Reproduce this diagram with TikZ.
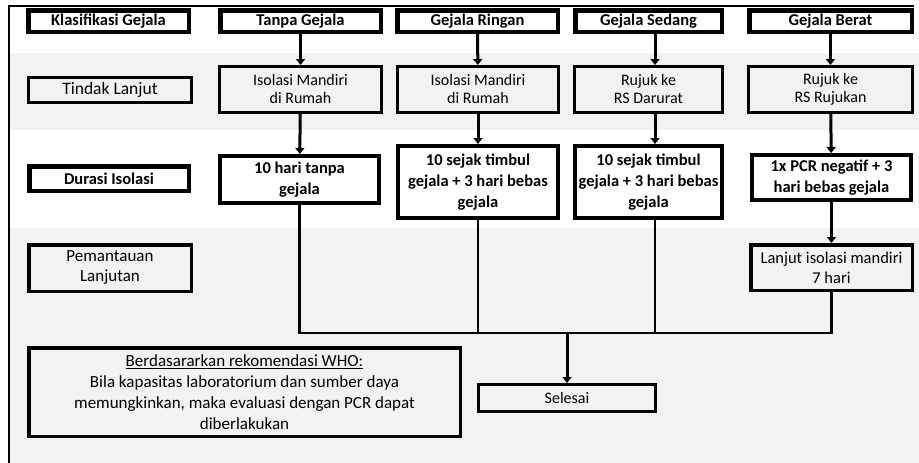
\documentclass[tikz,border=0pt]{standalone}
\usepackage{fontspec}
\setmainfont{Carlito}
\usetikzlibrary{arrows.meta}
\definecolor{bandgray}{HTML}{F2F2F2}

\begin{document}
\begin{tikzpicture}[
	x=1pt,
	y=-1pt,
	header/.style={
		rectangle,
		draw=black,
		line width=4.5pt,
		fill=white,
		align=center,
		inner sep=0pt,
		font=\fontsize{16.5}{19.5}\selectfont\bfseries,
		minimum height=21.5pt
	},
	action/.style={
		rectangle,
		draw=black,
		line width=3pt,
		fill=bandgray,
		align=center,
		inner sep=0pt,
		font=\fontsize{16}{18}\selectfont
	},
	duration/.style={
		rectangle,
		draw=black,
		line width=4pt,
		fill=white,
		align=center,
		inner sep=0pt,
		font=\fontsize{16.5}{21}\selectfont\bfseries
	},
	followup/.style={
		rectangle,
		draw=black,
		line width=3.5pt,
		fill=bandgray,
		align=center,
		inner sep=0pt,
		font=\fontsize{17}{20}\selectfont
	},
	flow/.style={line width=3pt, -{Triangle[length=6pt,width=9pt]}},
	mergeline/.style={line width=2.5pt},
]

% background bands and frame
\useasboundingbox (0,0) rectangle (919,463);
\fill[bandgray] (10,53) rectangle (919,130);
\fill[bandgray] (10,228) rectangle (919,463);
\draw[line width=2pt] (9,463) -- (9,6) -- (914,6);

% row 1: classification
\node[header, minimum width=160.5pt] (cls) at (108.5,21) {Klasifikasi Gejala};
\node[header, minimum width=160.5pt] (c1) at (300.5,21) {Tanpa Gejala};
\node[header, minimum width=160.5pt] (c2) at (477.5,21) {Gejala Ringan};
\node[header, minimum width=146.5pt] (c3) at (648.5,21) {Gejala Sedang};
\node[header, minimum width=162.5pt] (c4) at (830.5,21) {Gejala Berat};

% row 2: follow-up action
\node[action, minimum width=163pt, minimum height=25pt,
	font=\fontsize{17.5}{18}\selectfont] (tl) at (110,90) {Tindak Lanjut};
\node[action, minimum width=162pt, minimum height=46pt] (a1) at (300.5,89.5) {Isolasi Mandiri\\di Rumah};
\node[action, minimum width=161pt, minimum height=46pt] (a2) at (478,89.5) {Isolasi Mandiri\\di Rumah};
\node[action, minimum width=148pt, minimum height=46pt] (a3) at (648.5,89.5) {Rujuk ke\\RS Darurat};
\node[action, minimum width=164pt, minimum height=46pt] (a4) at (830.5,89.5) {Rujuk ke\\RS Rujukan};

% row 3: isolation duration
\node[header, minimum width=159.5pt, minimum height=24.5pt] (dl) at (109,178.5) {Durasi Isolasi};
\node[duration, minimum width=159pt, minimum height=47pt] (d1) at (299.5,179.5) {10 hari tanpa\\gejala};
\node[duration, minimum width=160pt, minimum height=72pt] (d2) at (478,182) {10 sejak timbul\\gejala + 3 hari bebas\\gejala};
\node[duration, minimum width=147pt, minimum height=72pt] (d3) at (648.5,182) {10 sejak timbul\\gejala + 3 hari bebas\\gejala};
\node[duration, minimum width=159pt, minimum height=45pt] (d4) at (831.5,177.5) {1x PCR negatif + 3\\hari bebas gejala};

% row 4: monitoring
\node[followup, minimum width=162.5pt, minimum height=46.5pt] (pl) at (110,268) {Pemantauan\\Lanjutan};
\node[followup, minimum width=161.5pt, minimum height=45.5pt,
	font=\fontsize{16.5}{20}\selectfont] (m4) at (831.5,267.5) {Lanjut isolasi mandiri\\7 hari};

\node[followup, minimum width=431.5pt, minimum height=88.5pt,
	font=\fontsize{17}{21}\selectfont] (who) at (244.5,392)
	{\underline{Berdasararkan rekomendasi WHO:}\\Bila kapasitas laboratorium dan sumber daya\\memungkinkan, maka evaluasi dengan PCR dapat\\diberlakukan};
\node[action, minimum width=177pt, minimum height=27pt] (sel) at (567,398) {Selesai};

\coordinate (merge) at (567,333);

\draw[flow] (c1) -- (a1);
\draw[flow] (a1) -- (d1);
\draw[flow] (c2) -- (a2);
\draw[flow] (a2) -- (d2);
\draw[flow] ([xshift=6.5pt]c3.south) -- ([xshift=6.5pt]a3.north);
\draw[flow] ([xshift=6.5pt]a3.south) -- ([xshift=6.5pt]d3.north);
\draw[flow] (c4) -- (a4);
\draw[flow] (a4) -- (d4);
\draw[flow] (d4) -- (m4);

\draw[mergeline] (d1.south) -- (d1.south |- merge) -- (m4.south |- merge) -- (m4.south);
\draw[mergeline] (d2.south) -- (d2.south |- merge);
\draw[mergeline] ([xshift=6.5pt]d3.south) -- ([xshift=6.5pt]d3.south |- merge);
\draw[flow] (merge) -- (sel);

\end{tikzpicture}
\end{document}
